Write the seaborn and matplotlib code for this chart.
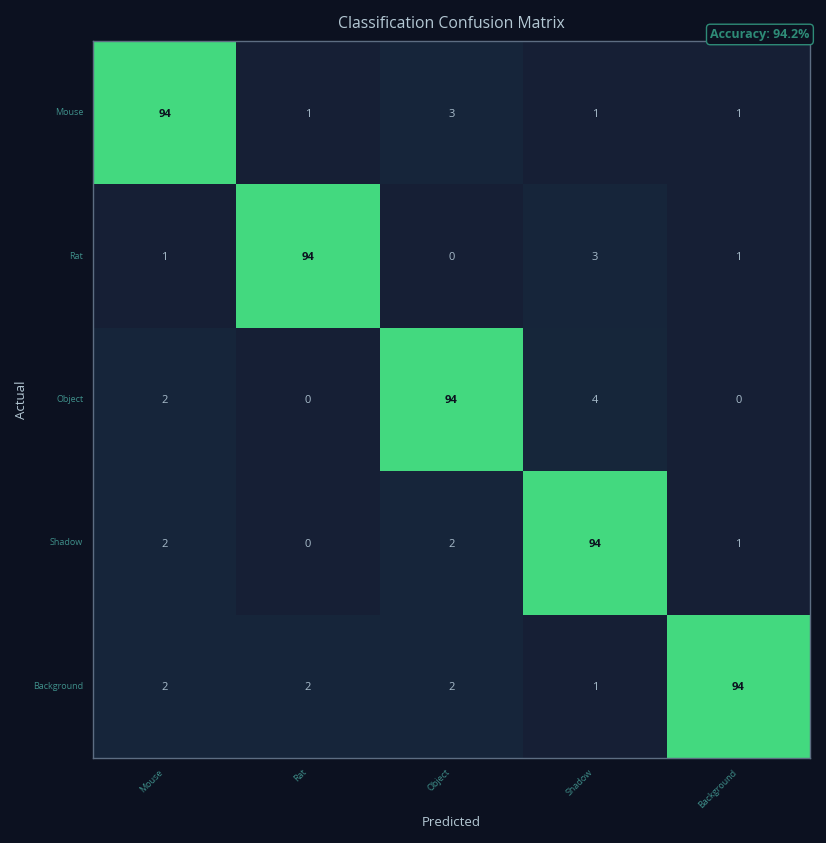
import numpy as np
import pandas as pd
import matplotlib
matplotlib.use("Agg")
import matplotlib.pyplot as plt
import seaborn as sns
from matplotlib.colors import LinearSegmentedColormap

# dados da matriz (percentual por linha)
classes = ['Mouse', 'Rat', 'Object', 'Shadow', 'Background']
row_mouse = [94, 1, 3, 1, 1]
row_rat = [1, 94, 0, 3, 1]
row_object = [2, 0, 94, 4, 0]
row_shadow = [2, 0, 2, 94, 1]
row_background = [2, 2, 2, 1, 94]
accuracy = 94.2

df = pd.DataFrame([row_mouse, row_rat, row_object, row_shadow, row_background],
                  index=classes, columns=classes)

bg = '#0c1120'
sns.set_style('dark')
plt.rcParams['font.family'] = ['Open Sans', 'DejaVu Sans']

cmap = LinearSegmentedColormap.from_list('cm', [
    (0.0, '#161f35'), (0.012, '#161f35'), (0.02, '#16253a'),
    (0.05, '#16263a'), (1.0, '#43d97f')])

fig = plt.figure(figsize=(8.26, 8.43), dpi=100, facecolor=bg)
ax = fig.add_axes([0.1126, 0.1008, 0.868, 0.8506])
ax.set_facecolor(bg)

sns.heatmap(df, ax=ax, cmap=cmap, vmin=0, vmax=94, cbar=False, annot=False,
            linewidths=0)

# anotações
vals = df.values
for i in range(len(classes)):
    for j in range(len(classes)):
        v = vals[i, j]
        if i == j:
            ax.text(j + 0.5, i + 0.51, str(v), ha='center', va='center',
                    fontsize=8, color='#0c1120', fontweight='bold')
        else:
            ax.text(j + 0.5, i + 0.51, str(v), ha='center', va='center',
                    fontsize=8, color='#a8bccb')

for s in ax.spines.values():
    s.set_visible(True)
    s.set_color('#5d6d82')
    s.set_linewidth(1)

ax.set_title('Classification Confusion Matrix', color='#b4c8d4', fontsize=11.3, pad=9)
ax.set_xlabel('Predicted', color='#b4c8d4', fontsize=9.5, labelpad=5)
ax.set_ylabel('Actual', color='#b4c8d4', fontsize=9.5, labelpad=4)

ax.set_xticklabels(classes, rotation=45, ha='right', color='#3f8f8a', fontsize=6.5)
ax.set_yticklabels(classes, rotation=0, color='#3f8f8a', fontsize=6.5)
ax.tick_params(axis='both', colors='#5d6d82', length=3.5, width=0.8)
for lab in ax.get_xticklabels() + ax.get_yticklabels():
    lab.set_color('#3f8f8a')

ax.text(0.9995, 1.0, f'Accuracy: {accuracy}%', transform=ax.transAxes,
        ha='right', va='bottom', fontsize=9, fontweight='bold', color='#2e8b77',
        bbox=dict(boxstyle='round,pad=0.3', facecolor=bg, edgecolor='#2e8b77', linewidth=1))

fig.savefig('out.png', dpi=100, facecolor=bg)
